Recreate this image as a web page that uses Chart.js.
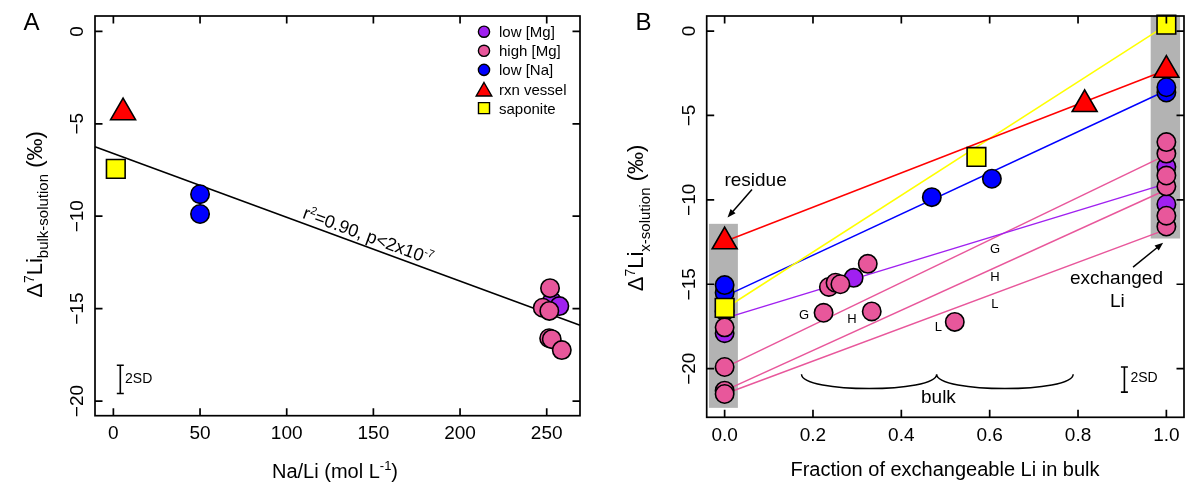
<!DOCTYPE html>
<html>
<head>
<meta charset="utf-8">
<script src="https://cdn.jsdelivr.net/npm/chart.js@4.4.0/dist/chart.umd.min.js"></script>
<style>
  html, body { margin: 0; padding: 0; background: #fff; }
  #wrap { position: relative; width: 1200px; height: 488px; }
  canvas { position: absolute; top: 0; }
  #panelA { left: 0; }
  #panelB { left: 600px; }
</style>
</head>
<body>
<div id="wrap">
  <canvas id="panelA" width="600" height="488"></canvas>
  <canvas id="panelB" width="600" height="488"></canvas>
</div>
<script>
const FONT = '"Liberation Sans", Arial, Helvetica, sans-serif';
const PURPLE = '#A020F0', PINK = '#E8579B', BLUE = '#0000FF', RED = '#FF0000', YELLOW = '#FFFF00';
const BAND_GREY = '#B3B3B3';

// ---------- panel A data ----------
const xTicksA = [0, 50, 100, 150, 200, 250];
const xLabelsA = ['0', '50', '100', '150', '200', '250'];
const yTicksA = [0, -5, -10, -15, -20];
const yLabelsA = ['0', '\u22125', '\u221210', '\u221215', '\u221220'];

const lowMgA_x = [253.0, 257.3];
const lowMgA_y = [-14.60, -14.86];
const highMgA_x = [247.7, 251.4, 252.9, 251.9, 258.7, 251.5];
const highMgA_y = [-14.95, -16.60, -16.65, -13.89, -17.24, -15.12];
const lowNaA_x = [50, 50];
const lowNaA_y = [-8.81, -9.88];
const rxnA_x = [5.6];
const rxnA_y = [-4.39];
const sapA_x = [1.4];
const sapA_y = [-7.44];
// regression line end points
const fitA_x = [-10.6, 269.2];
const fitA_y = [-6.24, -15.90];

const legendLabels = ['low [Mg]', 'high [Mg]', 'low [Na]', 'rxn vessel', 'saponite'];

// ---------- panel B data ----------
const xTicksB = [0, 0.2, 0.4, 0.6, 0.8, 1.0];
const xLabelsB = ['0.0', '0.2', '0.4', '0.6', '0.8', '1.0'];
const yTicksB = [0, -5, -10, -15, -20];
const yLabelsB = ['0', '\u22125', '\u221210', '\u221215', '\u221220'];

const lowMgB_x = [0, 0, 0.292, 1, 1];
const lowMgB_y = [-16.6, -17.9, -14.62, -8.04, -10.26];
const highMgB_x = [0, 0, 0, 0, 0.236, 0.251, 0.262, 0.324, 0.224, 0.333, 0.521, 1, 1, 1, 1, 1, 1];
const highMgB_y = [-21.3, -21.5, -19.9, -17.55, -15.16, -14.91, -15.0, -13.79, -16.69, -16.61, -17.23,
                   -11.58, -10.94, -9.2, -8.56, -7.26, -6.58];
const lowNaB_x = [0, 0, 0.469, 0.605, 1, 1];
const lowNaB_y = [-15.5, -15.05, -9.84, -8.75, -3.64, -3.33];
const rxnB_x = [0, 0.815, 1];
const rxnB_y = [-12.47, -4.34, -2.31];
const sapB_x = [0, 0.570, 1];
const sapB_y = [-16.4, -7.46, 0.38];

// mixing lines, residue (x=0) to exchanged Li (x=1)
const mixX = [0, 1];
const mixRxn = [-12.47, -2.31];
const mixSap = [-16.45, 0.35];
const mixLowNa = [-15.72, -3.52];
const mixLowMg = [-17.02, -9.04];
const mixG = [-19.94, -7.34];
const mixH = [-21.3, -9.4];
const mixL = [-21.5, -11.75];

// ---------- helpers ----------
function pts(xs, ys) { return xs.map((x, i) => ({ x, y: ys[i] })); }

function marker(label, xs, ys, color, style, order) {
  const r = style === 'triangle' ? 14.4 : style === 'rect' ? 13.2 : 9.2;
  return {
    label, data: pts(xs, ys), showLine: false, order, clip: false,
    pointStyle: style, pointRadius: r, pointHoverRadius: r,
    pointBackgroundColor: color, pointBorderColor: '#000', pointBorderWidth: 1.6
  };
}

function line(xs, ys, color, width) {
  return {
    data: pts(xs, ys), showLine: true, order: 20, clip: false,
    borderColor: color, borderWidth: width, pointRadius: 0, pointHoverRadius: 0, tension: 0
  };
}

function drawRich(ctx, segs, x, y, rot, align) {
  ctx.save();
  ctx.translate(x, y);
  ctx.rotate(rot || 0);
  ctx.fillStyle = '#000';
  ctx.textBaseline = 'alphabetic';
  ctx.textAlign = 'left';
  let w = 0;
  segs.forEach(s => { ctx.font = s.size + 'px ' + FONT; w += ctx.measureText(s.t).width; });
  let cx = align === 'left' ? 0 : -w / 2;
  segs.forEach(s => {
    ctx.font = s.size + 'px ' + FONT;
    ctx.fillText(s.t, cx, s.dy || 0);
    cx += ctx.measureText(s.t).width;
  });
  ctx.restore();
}

function text(ctx, s, x, y, size, align) {
  ctx.font = size + 'px ' + FONT;
  ctx.fillStyle = '#000';
  ctx.textAlign = align || 'center';
  ctx.textBaseline = 'alphabetic';
  ctx.fillText(s, x, y);
}

function drawMarker(ctx, style, x, y, r, color) {
  ctx.beginPath();
  if (style === 'circle') {
    ctx.arc(x, y, r, 0, Math.PI * 2);
  } else if (style === 'triangle') {
    ctx.moveTo(x, y - r);
    ctx.lineTo(x + Math.sin(2 * Math.PI / 3) * r, y - Math.cos(2 * Math.PI / 3) * r);
    ctx.lineTo(x + Math.sin(4 * Math.PI / 3) * r, y - Math.cos(4 * Math.PI / 3) * r);
    ctx.closePath();
  } else {
    const s = Math.SQRT1_2 * r;
    ctx.rect(x - s, y - s, 2 * s, 2 * s);
  }
  ctx.fillStyle = color;
  ctx.fill();
  ctx.lineWidth = 1.4;
  ctx.strokeStyle = '#000';
  ctx.stroke();
}

function arrow(ctx, x1, y1, x2, y2) {
  const a = Math.atan2(y2 - y1, x2 - x1), len = 9, spread = 0.38;
  ctx.beginPath();
  ctx.moveTo(x1, y1);
  ctx.lineTo(x2 - Math.cos(a) * 4, y2 - Math.sin(a) * 4);
  ctx.lineWidth = 1.5;
  ctx.strokeStyle = '#000';
  ctx.stroke();
  ctx.beginPath();
  ctx.moveTo(x2, y2);
  ctx.lineTo(x2 - len * Math.cos(a - spread), y2 - len * Math.sin(a - spread));
  ctx.lineTo(x2 - len * Math.cos(a + spread), y2 - len * Math.sin(a + spread));
  ctx.closePath();
  ctx.fillStyle = '#000';
  ctx.fill();
}

function errBar(ctx, x, yTop, yBot) {
  ctx.beginPath();
  ctx.moveTo(x, yTop); ctx.lineTo(x, yBot);
  ctx.moveTo(x - 3.5, yTop); ctx.lineTo(x + 3.5, yTop);
  ctx.moveTo(x - 3.5, yBot); ctx.lineTo(x + 3.5, yBot);
  ctx.lineWidth = 1.6;
  ctx.strokeStyle = '#000';
  ctx.stroke();
}

// box with inward ticks on all four sides, tick labels left and bottom
function framePlugin(cfg) {
  return {
    id: 'frame',
    beforeDatasetsDraw(chart) { if (cfg.under) cfg.under(chart); },
    afterDraw(chart) {
      const { ctx, chartArea: a, scales: { x, y } } = chart;
      ctx.save();
      ctx.strokeStyle = '#000';
      ctx.lineWidth = 1.7;
      ctx.strokeRect(a.left, a.top, a.right - a.left, a.bottom - a.top);
      const tl = 7.5;
      ctx.beginPath();
      cfg.xTicks.forEach(v => {
        const px = x.getPixelForValue(v);
        ctx.moveTo(px, a.bottom); ctx.lineTo(px, a.bottom - tl);
        ctx.moveTo(px, a.top); ctx.lineTo(px, a.top + tl);
      });
      cfg.yTicks.forEach(v => {
        const py = y.getPixelForValue(v);
        ctx.moveTo(a.left, py); ctx.lineTo(a.left + tl, py);
        ctx.moveTo(a.right, py); ctx.lineTo(a.right - tl, py);
      });
      ctx.stroke();
      cfg.xTicks.forEach((v, i) => text(ctx, cfg.xLabels[i], x.getPixelForValue(v), a.bottom + 23.5, 19));
      cfg.yTicks.forEach((v, i) => {
        ctx.save();
        ctx.translate(a.left - 12, y.getPixelForValue(v));
        ctx.rotate(-Math.PI / 2);
        text(ctx, cfg.yLabels[i], 0, 0, 19);
        ctx.restore();
      });
      if (cfg.over) cfg.over(chart);
      ctx.restore();
    }
  };
}

const baseOptions = (pad, xr, yr) => ({
  responsive: false,
  animation: false,
  devicePixelRatio: 1,
  events: [],
  layout: { padding: pad },
  scales: {
    x: { type: 'linear', display: false, min: xr[0], max: xr[1] },
    y: { type: 'linear', display: false, min: yr[0], max: yr[1] }
  },
  plugins: { legend: { display: false }, tooltip: { enabled: false } }
});

// ---------- panel A ----------
new Chart(document.getElementById('panelA'), {
  type: 'scatter',
  data: {
    datasets: [
      marker('saponite', sapA_x, sapA_y, YELLOW, 'rect', 1),
      marker('rxn vessel', rxnA_x, rxnA_y, RED, 'triangle', 2),
      marker('low [Na]', lowNaA_x, lowNaA_y, BLUE, 'circle', 3),
      marker('high [Mg]', highMgA_x, highMgA_y, PINK, 'circle', 4),
      marker('low [Mg]', lowMgA_x, lowMgA_y, PURPLE, 'circle', 5),
      line(fitA_x, fitA_y, '#000', 1.6)
    ]
  },
  options: baseOptions({ left: 95, right: 20, top: 6, bottom: 72.3 }, [-10.6, 269.2], [-20.79, 0.83]),
  plugins: [framePlugin({
    xTicks: xTicksA, xLabels: xLabelsA, yTicks: yTicksA, yLabels: yLabelsA,
    over(chart) {
      const { ctx, scales: { x, y } } = chart;
      // legend
      const colors = [PURPLE, PINK, BLUE, RED, YELLOW];
      const styles = ['circle', 'circle', 'circle', 'triangle', 'rect'];
      const sizes = [5.6, 5.6, 5.6, 9, 7.8];
      legendLabels.forEach((lab, i) => {
        const cy = 31.7 + i * 19.1;
        drawMarker(ctx, styles[i], 484, styles[i] === 'triangle' ? cy + 2.5 : cy, sizes[i], colors[i]);
        text(ctx, lab, 499, cy + 5.5, 15, 'left');
      });
      // regression annotation along the fit line
      const ang = Math.atan2(y.getPixelForValue(fitA_y[1]) - y.getPixelForValue(fitA_y[0]),
                             x.getPixelForValue(fitA_x[1]) - x.getPixelForValue(fitA_x[0]));
      drawRich(ctx, [
        { t: 'r', size: 18 }, { t: '2', size: 11, dy: -7 },
        { t: '=0.90, p<2x10', size: 18 }, { t: '-7', size: 11, dy: -7 }
      ], x.getPixelForValue(145.8), y.getPixelForValue(-11.36), ang);
      // 2SD
      errBar(ctx, x.getPixelForValue(4.0), y.getPixelForValue(-18.06), y.getPixelForValue(-19.59));
      text(ctx, '2SD', x.getPixelForValue(6.75), y.getPixelForValue(-19.0), 14, 'left');
      // panel letter and titles
      text(ctx, 'A', 31.5, 30, 24);
      drawRich(ctx, [
        { t: 'Na/Li (mol L', size: 20 }, { t: '-1', size: 13, dy: -8 }, { t: ')', size: 20 }
      ], 335, 478, 0);
      drawRich(ctx, [
        { t: '\u0394', size: 22 }, { t: '7', size: 14, dy: -8 }, { t: 'Li', size: 22 },
        { t: 'bulk-solution', size: 15, dy: 6 }, { t: ' (\u2030)', size: 22 }
      ], 42, 214.5, -Math.PI / 2);
    }
  })]
});

// ---------- panel B ----------
const residueBand = [-0.0355, 0.030, -22.32, -11.42];
const exchangeBand = [0.9645, 1.031, -12.29, 0.89];

new Chart(document.getElementById('panelB'), {
  type: 'scatter',
  data: {
    datasets: [
      marker('saponite', sapB_x, sapB_y, YELLOW, 'rect', 1),
      marker('rxn vessel', rxnB_x, rxnB_y, RED, 'triangle', 2),
      marker('low [Na]', lowNaB_x, lowNaB_y, BLUE, 'circle', 3),
      marker('high [Mg]', highMgB_x, highMgB_y, PINK, 'circle', 4),
      marker('low [Mg]', lowMgB_x, lowMgB_y, PURPLE, 'circle', 5),
      line(mixX, mixRxn, RED, 1.5),
      line(mixX, mixSap, YELLOW, 1.5),
      line(mixX, mixLowNa, BLUE, 1.5),
      line(mixX, mixLowMg, PURPLE, 1.5),
      line(mixX, mixG, PINK, 1.5),
      line(mixX, mixH, PINK, 1.5),
      line(mixX, mixL, PINK, 1.5)
    ]
  },
  options: baseOptions({ left: 106.7, right: 6, top: 8, bottom: 70.7 }, [-0.0406, 1.0399], [-22.88, 0.89]),
  plugins: [framePlugin({
    xTicks: xTicksB, xLabels: xLabelsB, yTicks: yTicksB, yLabels: yLabelsB,
    under(chart) {
      const { ctx, scales: { x, y } } = chart;
      ctx.save();
      ctx.fillStyle = BAND_GREY;
      [residueBand, exchangeBand].forEach(b => {
        const l = x.getPixelForValue(b[0]), r = x.getPixelForValue(b[1]);
        const t = y.getPixelForValue(b[3]), btm = y.getPixelForValue(b[2]);
        ctx.fillRect(l, t, r - l, btm - t);
      });
      ctx.restore();
    },
    over(chart) {
      const { ctx, scales: { x, y } } = chart;
      const X = v => x.getPixelForValue(v), Y = v => y.getPixelForValue(v);
      // residue / exchanged labels
      text(ctx, 'residue', X(0.070), Y(-9.2), 19);
      arrow(ctx, X(0.062), Y(-9.39), X(0.0066), Y(-11.04));
      text(ctx, 'exchanged', X(0.887), Y(-15.0), 19);
      text(ctx, 'Li', X(0.889), Y(-16.36), 19);
      arrow(ctx, X(0.9246), Y(-13.98), X(0.9927), Y(-12.54));
      // bulk brace
      const bx0 = X(0.174), bxm = X(0.480), bx1 = X(0.789);
      const byT = Y(-20.33), byB = Y(-21.18), k = (byB - byT) / 3;
      ctx.beginPath();
      ctx.moveTo(bx0, byT);
      ctx.bezierCurveTo(bx0, byB + k, bxm, byB + k, bxm, byT);
      ctx.bezierCurveTo(bxm, byB + k, bx1, byB + k, bx1, byT);
      ctx.lineWidth = 1.5;
      ctx.strokeStyle = '#000';
      ctx.stroke();
      text(ctx, 'bulk', X(0.484), Y(-22.03), 19);
      // sample labels
      text(ctx, 'G', X(0.1796), Y(-17.07), 13);
      text(ctx, 'H', X(0.288), Y(-17.29), 13);
      text(ctx, 'L', X(0.484), Y(-17.77), 13);
      text(ctx, 'G', X(0.612), Y(-13.17), 13);
      text(ctx, 'H', X(0.612), Y(-14.81), 13);
      text(ctx, 'L', X(0.612), Y(-16.42), 13);
      // 2SD
      errBar(ctx, X(0.905), Y(-19.9), Y(-21.39));
      text(ctx, '2SD', X(0.9186), Y(-20.81), 14, 'left');
      // panel letter and titles
      text(ctx, 'B', 43.5, 30, 24);
      text(ctx, 'Fraction of exchangeable Li in bulk', 345, 475.5, 20);
      drawRich(ctx, [
        { t: '\u0394', size: 22 }, { t: '7', size: 14, dy: -8 }, { t: 'Li', size: 22 },
        { t: 'x-solution', size: 15, dy: 7 }, { t: ' (\u2030)', size: 22 }
      ], 43.3, 218, -Math.PI / 2);
    }
  })]
});
</script>
</body>
</html>
